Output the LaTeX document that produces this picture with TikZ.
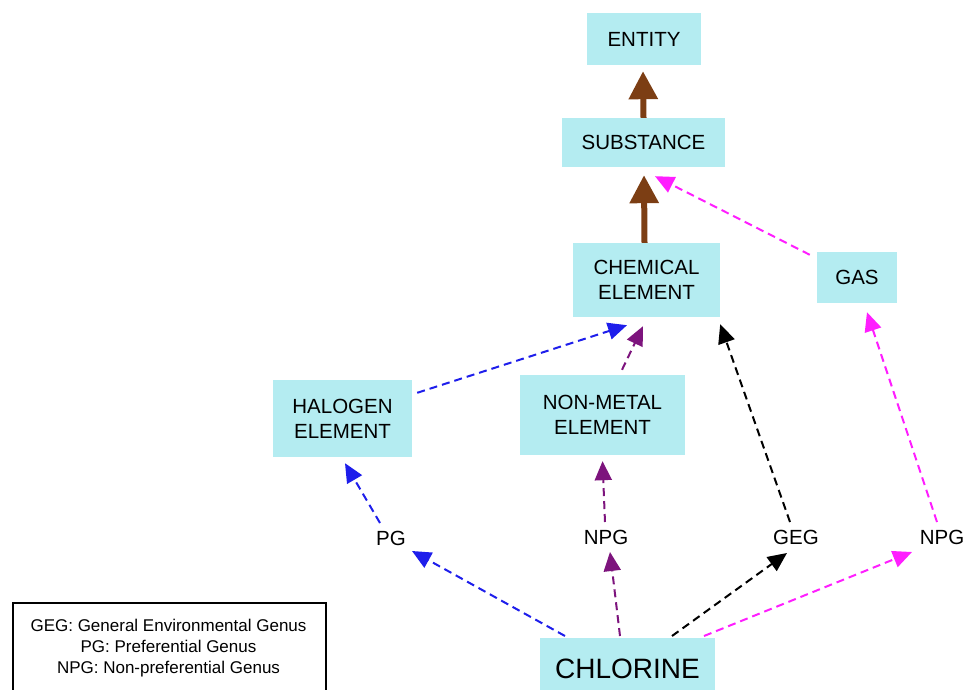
\documentclass[tikz,border=0pt]{standalone}
\usepackage{fontspec}
\setmainfont{Liberation Sans}
\usetikzlibrary{arrows.meta,calc}
\definecolor{boxfill}{RGB}{180,236,241}
\definecolor{brownarr}{RGB}{124,62,20}
\definecolor{bluearr}{RGB}{30,30,235}
\definecolor{purplearr}{RGB}{125,20,125}
\definecolor{magentaarr}{RGB}{255,30,255}
\tikzset{
  concept/.style={fill=boxfill,draw=none,inner sep=0pt,align=center,font=\fontsize{20.5}{25}\selectfont},
  rel/.style={inner sep=0pt,font=\fontsize{20.5}{25}\selectfont},
  isa/.style={draw=brownarr,line width=6pt,-{Triangle[length=28pt,width=28pt,fill=brownarr]}},
  dasharr/.style={line width=2pt,dash pattern=on 8pt off 5pt,-{Triangle[length=19pt,width=17pt]}},
}
\begin{document}
\begin{tikzpicture}[x=1pt,y=-1pt]
\useasboundingbox (0,0) rectangle (967,690);
% concept boxes
\node[concept,minimum width=114pt,minimum height=52pt] (entity) at (644,39) {ENTITY};
\node[concept,minimum width=163pt,minimum height=49pt] (subst) at (643.5,142.5) {SUBSTANCE};
\node[concept,minimum width=147pt,minimum height=74pt] (chem) at (646.5,280) {CHEMICAL\\ELEMENT};
\node[concept,minimum width=80pt,minimum height=51pt] (gas) at (857,277.5) {GAS};
\node[concept,minimum width=139pt,minimum height=77pt] (hal) at (342.5,418.5) {HALOGEN\\ELEMENT};
\node[concept,minimum width=165pt,minimum height=80pt] (nonm) at (602.5,415) {NON-METAL\\ELEMENT};
\node[concept,minimum width=175pt,minimum height=64pt,anchor=north,font=\fontsize{28}{32}\selectfont] (chl) at (627.5,638) {\raisebox{3pt}{CHLORINE}};
% relation labels
\node[rel] (pg) at (391,538) {PG};
\node[rel] (npga) at (606,537) {NPG};
\node[rel] (geg) at (796,537) {GEG};
\node[rel] (npgb) at (942,537) {NPG};
% legend
\node[draw=black,line width=1.5pt,minimum width=313pt,minimum height=100pt,anchor=north west,inner sep=0pt] (legend) at (12,602) {};
\node[align=center,inner sep=0pt,font=\fontsize{17}{21}\selectfont] (legtext) at (168.5,648) {GEG: General Environmental Genus\\PG: Preferential Genus\\NPG: Non-preferential Genus};
% is-a arrows
\draw[isa] (subst.north) -- ($(entity.south)+(-1,6)$);
\draw[isa] ($(chem.north)+(-2,0)$) -- ($(subst.south)+(0.5,8)$);
% dashed arrows
\draw[dasharr,bluearr] ($(hal.north east)+(5,13)$) -- ($(chem.south)+(-19.5,8)$);
\draw[dasharr,purplearr] ($(nonm.north)+(19.5,-5)$) -- ($(chem.south)+(-3.5,9)$);
\draw[dasharr,black] ($(geg.center)+(-6,-15)$) -- ($(chem.south east)+(0,7)$);
\draw[dasharr,magentaarr] ($(npgb.center)+(-5,-15)$) -- ($(gas.south)+(10,9)$);
\draw[dasharr,magentaarr] ($(gas.north west)+(-7,3)$) -- ($(subst.south)+(11.5,9)$);
\draw[dasharr,bluearr] ($(pg.center)+(-11,-15)$) -- ($(hal.south)+(2.5,6)$);
\draw[dasharr,purplearr] ($(npga.center)+(-1,-15)$) -- ($(nonm.south)+(0,6)$);
\draw[dasharr,bluearr] ($(chl.north)+(-62.5,-2)$) -- ($(pg.center)+(21,13)$);
\draw[dasharr,purplearr] ($(chl.north)+(-7.5,-2)$) -- ($(npga.center)+(4,15)$);
\draw[dasharr,black] ($(chl.north)+(44.5,-2)$) -- ($(geg.center)+(-9,16)$);
\draw[dasharr,magentaarr] ($(chl.north)+(76.5,-2)$) -- ($(npgb.center)+(-30,15)$);
\end{tikzpicture}
\end{document}
